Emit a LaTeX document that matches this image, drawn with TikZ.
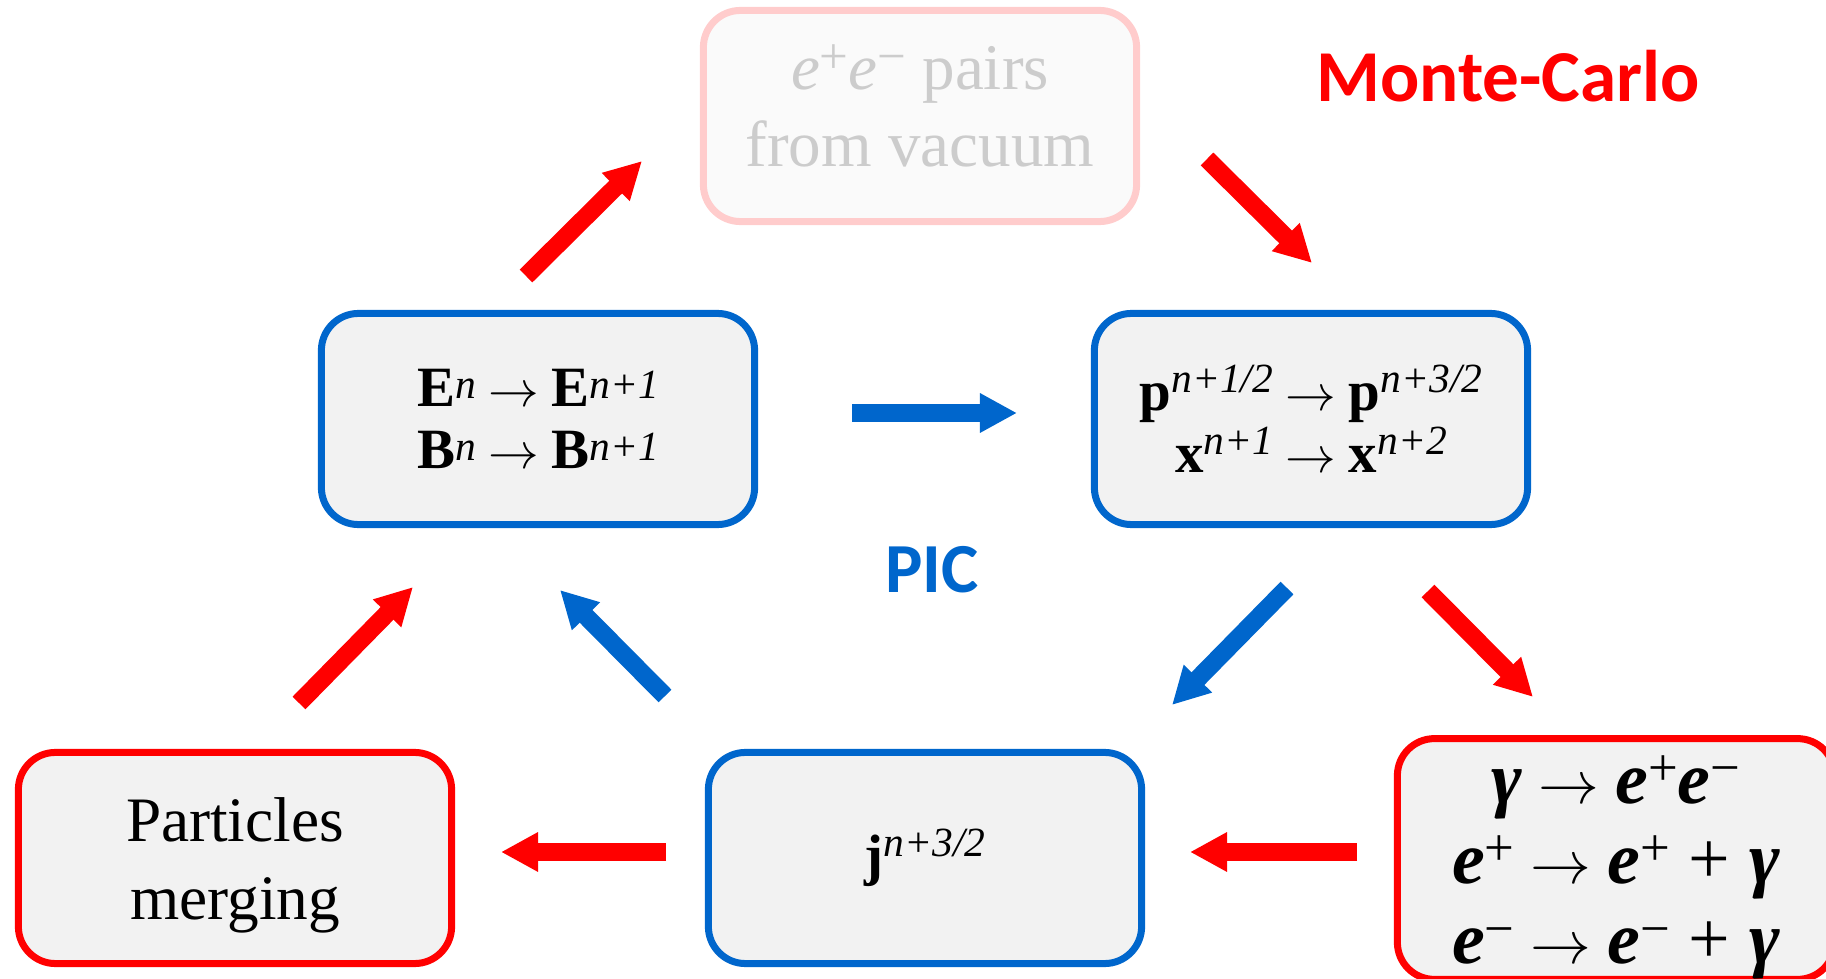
\documentclass[tikz,border=0pt]{standalone}
\usepackage{fontspec}
\setmainfont{Liberation Serif}
\newfontfamily\calfont{Carlito}
\usepackage{graphicx}
\usetikzlibrary{arrows.meta}
\definecolor{MCRed}{HTML}{FF0000}
\definecolor{PICBlue}{HTML}{0066CC}
\definecolor{BoxGray}{HTML}{F2F2F2}
\definecolor{GhostPink}{HTML}{FFCCCC}
\definecolor{GhostFill}{HTML}{FAFAFA}
\definecolor{GhostText}{HTML}{CCCCCC}

% superscripts and arrow for the update formulas
\newcommand{\upi}[2][5pt]{\raisebox{#1}{\fontsize{11.8}{12}\selectfont\itshape #2}}
\newcommand{\upv}[1]{\raisebox{4.5pt}{\fontsize{14.5}{14}\selectfont\upshape #1}}
\newcommand{\upx}[1]{\raisebox{5pt}{\fontsize{15}{15}\selectfont\mdseries\upshape #1}}
\newcommand{\arr}[1][15]{\hspace{0.22em}{\fontsize{#1}{#1}\selectfont$\rightarrow$}\hspace{0.22em}}

\tikzset{
  stage/.style={draw=#1, fill=BoxGray, line width=0.07cm, rounded corners=0.37cm,
    minimum width=4.33cm, minimum height=2.11cm, align=center, inner sep=0pt},
  redarrow/.style={draw=MCRed, line width=0.18cm, -{Triangle[width=0.37cm,length=0.37cm]}},
  bluearrow/.style={draw=PICBlue, line width=0.18cm, -{Triangle[width=0.37cm,length=0.37cm]}}
}

\begin{document}
\begin{tikzpicture}[x=0.01cm, y=-0.01cm]
  \useasboundingbox (0,0) rectangle (1826,979);

  % boxes
  \node[stage=GhostPink, fill=GhostFill, text=GhostText, text depth=5.7pt,
    font=\fontsize{18.5}{21.9}\selectfont] (vac) at (920,116)
    {\textit{e}\upv{+}\textit{e}\upv{−} pairs\\from vacuum};
  \node[stage=PICBlue, font=\fontsize{16.2}{17.6}\selectfont] (eb) at (538,419)
    {\textbf{E}\upi[2.3pt]{n}\arr\textbf{E}\upi[2.3pt]{n+1}\\
     \textbf{B}\upi[2.3pt]{n}\arr\textbf{B}\upi[2.3pt]{n+1}};
  \node[stage=PICBlue, font=\fontsize{16.2}{17.6}\selectfont] (px) at (1311,419)
    {\textbf{p}\upi{n+1/2}\arr\textbf{p}\upi{n+3/2}\\
     \textbf{x}\upi{n+1}\arr\textbf{x}\upi{n+2}};
  \node[stage=PICBlue, font=\fontsize{16.2}{17.6}\selectfont] (jj) at (925,858)
    {\textbf{j}\upi{n+3/2}};
  \node[stage=MCRed, text height=39.1pt, font=\fontsize{18}{22.2}\selectfont] (pm) at (235,858)
    {Particles\\merging};
  \node[stage=MCRed, minimum width=4.37cm, minimum height=2.39cm, text height=64pt,
    font=\fontsize{21}{22.8}\selectfont\bfseries\itshape] (rx) at (1616,859)
    {γ\arr[17]e\upx{+}e\upx{−}\\
     e\upx{+}\arr[17]e\upx{+} {\mdseries\upshape +} γ\\
     e\upx{−}\arr[17]e\upx{−} {\mdseries\upshape +} γ};

  % labels
  \node[text=MCRed, font=\calfont\fontsize{20.8}{24}\selectfont\bfseries, anchor=base] (mc) at (1508,102) {Monte-Carlo};
  \node[text=PICBlue, font=\calfont\fontsize{20}{24}\selectfont\bfseries, anchor=base] (pic) at (932,593) {PIC};

  % arrow ends
  \coordinate (eb-up) at (526,276);   \coordinate (vac-in) at (642,161);
  \coordinate (vac-out) at (1207,159); \coordinate (px-in) at (1312,263);
  \coordinate (px-mc) at (1428,591);  \coordinate (rx-in) at (1533,697);
  \coordinate (rx-out) at (1357,852); \coordinate (jj-in) at (1190,852);
  \coordinate (jj-mc) at (666,852);   \coordinate (pm-in) at (501,852);
  \coordinate (pm-out) at (299,703);  \coordinate (eb-mc) at (413,587);
  \coordinate (eb-out) at (852,413);  \coordinate (px-pic) at (1017,413);
  \coordinate (px-out) at (1287,588); \coordinate (jj-pic) at (1172,705);
  \coordinate (jj-out) at (665,696);  \coordinate (eb-in) at (560,590);

  \draw[redarrow] (eb-up) -- (vac-in);
  \draw[redarrow] (vac-out) -- (px-in);
  \draw[redarrow] (px-mc) -- (rx-in);
  \draw[redarrow] (rx-out) -- (jj-in);
  \draw[redarrow] (jj-mc) -- (pm-in);
  \draw[redarrow] (pm-out) -- (eb-mc);
  \draw[bluearrow] (eb-out) -- (px-pic);
  \draw[bluearrow] (px-out) -- (jj-pic);
  \draw[bluearrow] (jj-out) -- (eb-in);
\end{tikzpicture}
\end{document}
